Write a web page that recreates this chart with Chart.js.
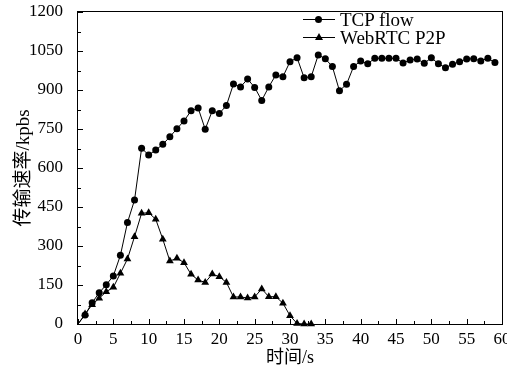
<!DOCTYPE html>
<html>
<head>
<meta charset="utf-8">
<script src="https://cdn.jsdelivr.net/npm/chart.js@4/dist/chart.umd.min.js"></script>
<style>
  body { margin: 0; background: #fff; }
  #wrap { position: relative; width: 507px; height: 371px; }
  .legend { position: absolute; left: 303px; font-family: 'Liberation Serif', serif; font-size: 19px; color: #000; line-height: 19px; }
  .legend .line { position: absolute; left: 0; top: 9px; width: 32px; height: 1px; background: #000; }
  .legend .dot { position: absolute; left: 12px; top: 6px; width: 7px; height: 7px; border-radius: 50%; background: #000; }
  .legend .tri { position: absolute; left: 12px; top: 5px; width: 0; height: 0; border-left: 4px solid transparent; border-right: 4px solid transparent; border-bottom: 7px solid #000; }
  .legend span { position: absolute; left: 37px; top: 0; white-space: nowrap; }
</style>
</head>
<body>
<div id="wrap">
  <canvas id="myChart" width="507" height="371"></canvas>
  <div class="legend" style="top:10px"><div class="line"></div><div class="dot"></div><span>TCP flow</span></div>
  <div class="legend" style="top:28px"><div class="line"></div><div class="tri"></div><span>WebRTC P2P</span></div>
</div>
<script>
// --- data ---
const tcpSeconds = [0, 1, 2, 3, 4, 5, 6, 7, 8, 9, 10, 11, 12, 13, 14, 15, 16, 17, 18, 19,
  20, 21, 22, 23, 24, 25, 26, 27, 28, 29, 30, 31, 32, 33, 34, 35, 36, 37, 38, 39,
  40, 41, 42, 43, 44, 45, 46, 47, 48, 49, 50, 51, 52, 53, 54, 55, 56, 57, 58, 59];
const tcpFlow = [0, 35, 82, 120, 151, 185, 264, 390, 477, 676, 650, 669, 691, 720, 751, 781, 820, 831, 749, 820,
  810, 840, 923, 912, 942, 910, 860, 912, 958, 951, 1009, 1024, 947, 951, 1035, 1020, 990, 897, 922, 990,
  1012, 1001, 1022, 1022, 1022, 1022, 1004, 1015, 1019, 1003, 1024, 1001, 986, 999, 1009, 1019, 1020, 1012, 1022, 1006];
const webrtcSeconds = [0, 1, 2, 3, 4, 5, 6, 7, 8, 9, 10, 11, 12, 13, 14, 15, 16, 17, 18, 19,
  20, 21, 22, 23, 24, 25, 26, 27, 28, 29, 30, 31, 32, 33];
const webrtcP2P = [0, 38, 74, 99, 124, 141, 195, 250, 336, 426, 428, 403, 326, 242, 253, 236, 191, 169, 160, 192,
  182, 160, 104, 104, 100, 104, 135, 105, 105, 80, 32, 2, 0, 0];
const xTicks = [0, 5, 10, 15, 20, 25, 30, 35, 40, 45, 50, 55, 60];
const yTicks = [0, 150, 300, 450, 600, 750, 900, 1050, 1200];

const serif = "'Liberation Serif', 'Noto Sans CJK SC', serif";

function toPoints(xs, ys) {
    return xs.map((x, i) => ({ x: x, y: ys[i] }));
}

// frame, inward tick marks and the x tick labels, placed through the scales
const framePlugin = {
    id: 'frameTicks',
    afterDatasetsDraw(chart) {
        const c = chart.ctx;
        const a = chart.chartArea;
        const xs = chart.scales.x;
        const ys = chart.scales.y;
        const L = Math.round(a.left), R = Math.round(a.right);
        const T = Math.round(a.top), B = Math.round(a.bottom);
        c.save();
        c.fillStyle = '#000000';
        c.fillRect(L - 1, T - 1, R - L + 2, 1);
        c.fillRect(L - 1, B, R - L + 2, 1);
        c.fillRect(L - 1, T - 1, 1, B - T + 2);
        c.fillRect(R, T - 1, 1, B - T + 2);
        for (let v = 0; v <= 60; v += 2.5) {
            const px = Math.round(xs.getPixelForValue(v));
            const len = (v % 5 === 0) ? 5 : 3;
            c.fillRect(px, B - len, 1, len);
        }
        for (let v = 0; v <= 1200; v += 75) {
            const py = Math.round(ys.getPixelForValue(v));
            const len = (v % 150 === 0) ? 5 : 3;
            c.fillRect(L, py, len, 1);
        }
        // x tick labels (Chart.js kept thinning them to every 10 s)
        c.font = '17px ' + serif;
        c.textAlign = 'center';
        c.textBaseline = 'middle';
        xTicks.forEach(v => {
            c.fillText(String(v), xs.getPixelForValue(v), B + 16);
        });
        c.restore();
    }
};

const ctx = document.getElementById('myChart');
new Chart(ctx, {
    type: 'line',
    data: {
        datasets: [{
            label: 'TCP flow',
            data: toPoints(tcpSeconds, tcpFlow),
            borderColor: '#000',
            backgroundColor: '#000',
            borderWidth: 1,
            pointStyle: 'circle',
            pointRadius: tcpFlow.map((v, i) => i === 0 ? 0 : 3.5),
            pointBorderWidth: 0,
            tension: 0,
            clip: false
        }, {
            label: 'WebRTC P2P',
            data: toPoints(webrtcSeconds, webrtcP2P),
            borderColor: '#000',
            backgroundColor: '#000',
            borderWidth: 1,
            pointStyle: 'triangle',
            pointRadius: webrtcP2P.map((v, i) => i === 0 ? 0 : 4.5),
            pointBorderWidth: 0,
            tension: 0,
            clip: false
        }]
    },
    options: {
        responsive: false,
        animation: false,
        devicePixelRatio: 1,
        layout: { padding: { top: 12, right: 5, left: 0, bottom: 0 } },
        plugins: {
            legend: { display: false },
            tooltip: { enabled: false }
        },
        scales: {
            x: {
                type: 'linear',
                min: 0,
                max: 60,
                afterFit: (s) => { s.height = 47; s.paddingLeft = 0; s.paddingRight = 0; },
                grid: { display: false },
                border: { display: false },
                ticks: { display: false },
                title: { display: true, text: '时间/s', color: '#000', font: { family: serif, size: 18 }, padding: { top: 0, bottom: 2 } }
            },
            y: {
                type: 'linear',
                min: 0,
                max: 1200,
                afterBuildTicks: (s) => { s.ticks = yTicks.map(v => ({ value: v })); },
                afterFit: (s) => { s.width = 78; s.paddingTop = 0; s.paddingBottom = 0; },
                grid: { display: false },
                border: { display: false },
                ticks: { color: '#000', font: { family: serif, size: 17 }, padding: 7, autoSkip: false,
                         callback: (v) => String(v) },
                title: { display: true, text: '传输速率/kpbs', color: '#000', font: { family: serif, size: 19 }, padding: { top: 13, bottom: 0 } }
            }
        }
    },
    plugins: [framePlugin]
});
</script>
</body>
</html>
